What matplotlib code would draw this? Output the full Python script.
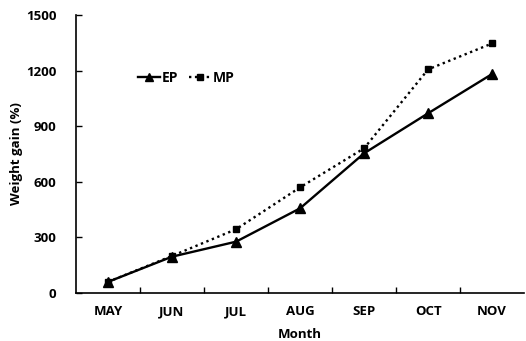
import matplotlib.pyplot as plt
import numpy as np

months = ['MAY', 'JUN', 'JUL', 'AUG', 'SEP', 'OCT', 'NOV']
ep = [60, 196, 277, 457, 754, 970, 1182]
mp = [60, 200, 344, 570, 781, 1207, 1347]
y_ticks = [0, 300, 600, 900, 1200, 1500]

plt.rcParams['font.family'] = 'Open Sans'

fig = plt.figure(figsize=(5.26, 3.41), dpi=100)
ax = fig.add_axes([0.1445, 0.1408, 0.852, 0.815])

x = np.arange(len(months)) + 0.5
ax.plot(x, ep, color='black', linewidth=1.7, marker='^', markersize=7, label='EP')
ax.plot(x, mp, color='black', linewidth=1.7, linestyle=(0, (1, 1.5)), marker='s', markersize=5, label='MP')

ax.set_xlim(0, len(months))
ax.set_ylim(0, 1500)
ax.set_yticks(y_ticks)
ax.set_xticks(np.arange(1, len(months)))
ax.set_xticklabels([])
ax.set_xticks(x, minor=True)
ax.set_xticklabels(months, minor=True, fontsize=9.5, fontweight='bold')
ax.tick_params(axis='x', which='minor', length=0, pad=9)
ax.tick_params(axis='x', which='major', direction='in', length=4, width=1)
ax.tick_params(axis='y', direction='in', length=4, width=1, labelsize=9.5, pad=14)
for lab in ax.get_yticklabels():
    lab.set_fontweight('bold')

ax.spines['top'].set_visible(False)
ax.spines['right'].set_visible(False)
ax.spines['left'].set_linewidth(1.2)
ax.spines['bottom'].set_linewidth(1.2)

ax.set_xlabel('Month', fontsize=9.5, fontweight='bold', labelpad=7)
ax.set_ylabel('Weight gain (%)', fontsize=9.5, fontweight='bold', labelpad=2)

ax.legend(loc='upper left', bbox_to_anchor=(0.11, 0.845), ncol=2, frameon=False,
          handlelength=1.6, handletextpad=0.1, columnspacing=0.8, markerscale=0.8,
          prop={'size': 10, 'weight': 'bold'})

fig.savefig('out.png', dpi=100)
